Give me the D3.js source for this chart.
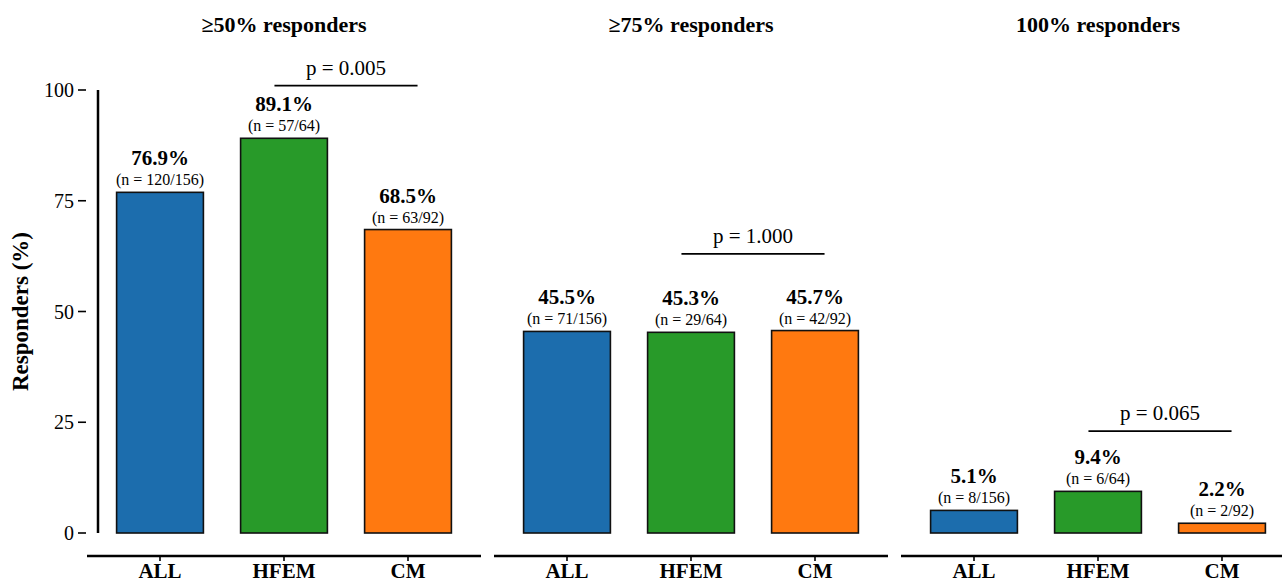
<!DOCTYPE html>
<html><head><meta charset="utf-8">
<script src="https://cdn.jsdelivr.net/npm/d3@7"></script>
<style>body{margin:0;background:#fff}svg{display:block}text{font-family:"Liberation Serif","Times New Roman",serif}</style>
</head><body><svg id="c" width="1282" height="583"></svg>
<script>
const panels = ["≥50% responders", "≥75% responders", "100% responders"];
const groups = ["ALL", "HFEM", "CM"];
const colors = ["#1c6dad", "#289a29", "#ff7910"];
const values = [[76.9, 89.1, 68.5], [45.5, 45.3, 45.7], [5.1, 9.4, 2.2]];
const nLabels = [["120/156", "57/64", "63/92"], ["71/156", "29/64", "42/92"], ["8/156", "6/64", "2/92"]];
const pValues = ["p = 0.005", "p = 1.000", "p = 0.065"];
const pLineLevel = [101, 63, 23];
const yTicks = [0, 25, 50, 75, 100];

const svg = d3.select("#c");
const y = d3.scaleLinear().domain([0, 100]).range([533, 90]);
const panelStep = 407;

// y axis
svg.append("line").attr("x1", 98).attr("x2", 98).attr("y1", y(0)).attr("y2", y(100))
  .attr("stroke", "#000").attr("stroke-width", 2.5);
yTicks.forEach(t => {
  svg.append("line").attr("x1", 78).attr("x2", 86).attr("y1", y(t)).attr("y2", y(t))
    .attr("stroke", "#000").attr("stroke-width", 1.6);
  svg.append("text").attr("x", 74).attr("y", y(t)).attr("dy", "0.35em")
    .attr("text-anchor", "end").attr("font-size", 20).text(t);
});
svg.append("text").attr("transform", `translate(28,${y(50)}) rotate(-90)`)
  .attr("text-anchor", "middle").attr("font-size", 23).attr("font-weight", "bold")
  .text("Responders (%)");

panels.forEach((title, pi) => {
  const x0 = 98 + pi * panelStep;
  const x = d3.scaleBand().domain(groups).range([x0, x0 + 372]).paddingInner(0.3).paddingOuter(0.15);
  const g = svg.append("g");
  const cx = d => x(d) + x.bandwidth() / 2;

  g.append("text").attr("x", cx("HFEM")).attr("y", 32).attr("text-anchor", "middle")
    .attr("font-size", 22).attr("font-weight", "bold").text(title);

  // bottom axis
  g.append("line").attr("x1", x0 - 11).attr("x2", x0 + 383).attr("y1", 556).attr("y2", 556)
    .attr("stroke", "#000").attr("stroke-width", 2.5);
  groups.forEach(d => {
    g.append("line").attr("x1", cx(d)).attr("x2", cx(d)).attr("y1", 556).attr("y2", 561)
      .attr("stroke", "#000").attr("stroke-width", 1.6);
    g.append("text").attr("x", cx(d)).attr("y", 578).attr("text-anchor", "middle")
      .attr("font-size", 21).attr("font-weight", "bold").text(d);
  });

  groups.forEach((d, i) => {
    const v = values[pi][i];
    g.append("rect").attr("x", x(d)).attr("width", x.bandwidth())
      .attr("y", y(v)).attr("height", y(0) - y(v))
      .attr("fill", colors[i]).attr("stroke", "#111").attr("stroke-width", 1.6);
    g.append("text").attr("x", cx(d)).attr("y", y(v) - 27).attr("text-anchor", "middle")
      .attr("font-size", 21).attr("font-weight", "bold").text(v.toFixed(1) + "%");
    g.append("text").attr("x", cx(d)).attr("y", y(v) - 7).attr("text-anchor", "middle")
      .attr("font-size", 16).text("(n = " + nLabels[pi][i] + ")");
  });

  const mid = (cx("HFEM") + cx("CM")) / 2;
  const half = x.step() * 0.577;
  g.append("line").attr("x1", mid - half).attr("x2", mid + half)
    .attr("y1", y(pLineLevel[pi])).attr("y2", y(pLineLevel[pi]))
    .attr("stroke", "#000").attr("stroke-width", 1.8);
  g.append("text").attr("x", mid).attr("y", y(pLineLevel[pi]) - 11).attr("text-anchor", "middle")
    .attr("font-size", 21).text(pValues[pi]);
});
</script></body></html>
